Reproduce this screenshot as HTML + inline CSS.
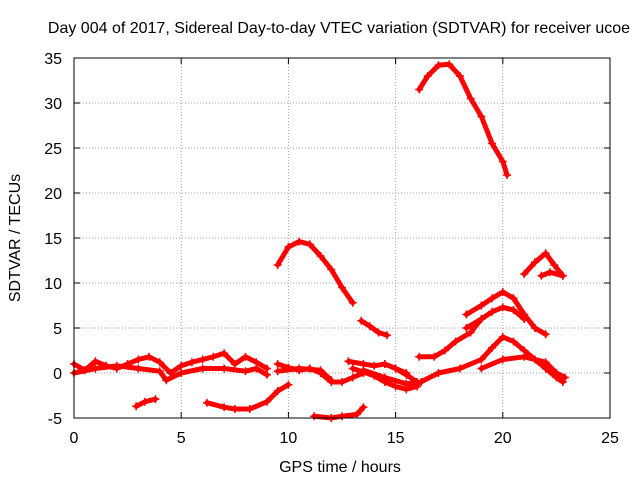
<!DOCTYPE html>
<html><head><meta charset="utf-8"><style>
body{margin:0;background:#fff}
svg text{font-family:"Liberation Sans",sans-serif;font-size:16px;fill:#000}
</style></head><body>
<svg width="640" height="480" xmlns="http://www.w3.org/2000/svg">
<rect width="640" height="480" fill="#fff"/>
<g id="grid"></g>
<g id="axes"></g>
<g id="series"></g>
<rect x="74" y="58" width="536" height="360" fill="none" stroke="#000"/>
<text x="339" y="33" text-anchor="middle">Day 004 of 2017, Sidereal Day-to-day VTEC variation (SDTVAR) for receiver ucoe</text>
<text x="340" y="472" text-anchor="middle">GPS time / hours</text>
<text transform="translate(20,238) rotate(-90)" text-anchor="middle">SDTVAR / TECUs</text>
</svg>
<script>
const xTicks=[0,5,10,15,20,25];
const yTicks=[-5,0,5,10,15,20,25,30,35];
const s1=[[16.1,31.5],[16.5,33],[17,34.2],[17.5,34.3],[18,33],[18.5,30.5],[19,28.5],[19.5,25.5],[20,23.5],[20.2,22]];
const s2=[[9.5,12],[10,14],[10.5,14.6],[11,14.3],[11.5,13],[12,11.5],[12.5,9.5],[13,7.8]];
const s3=[[13.4,5.8],[13.8,5.2],[14.2,4.5],[14.6,4.2]];
const s4=[[21,11],[21.5,12.3],[22,13.3],[22.4,12],[22.8,10.8]];
const s5=[[21.8,10.8],[22.2,11.2],[22.8,10.8]];
const s6=[[18.3,6.5],[19,7.5],[19.5,8.3],[20,9],[20.5,8.3],[21,6.5],[21.5,5],[22,4.3]];
const s7=[[18.3,5],[19,6],[19.5,6.8],[20,7.3],[20.5,7],[21,6]];
const s8=[[16.1,1.8],[16.8,1.8],[17.3,2.5],[17.8,3.5],[18.5,4.5],[19,6]];
const s9=[[16,-1.2],[17,0],[18,0.5],[19,1.5],[19.5,2.8],[20,4],[20.5,3.5],[21,2.5],[21.5,1.5],[22,0.5],[22.5,-0.5],[22.8,-1]];
const s10=[[19,0.5],[20,1.5],[21,1.8],[22,1.2],[22.5,0],[22.9,-0.5]];
const s11=[[2.9,-3.7],[3.3,-3.2],[3.8,-2.9]];
const s12=[[6.2,-3.3],[7,-3.8],[7.5,-4],[8.2,-4],[9,-3.2],[9.5,-2],[10,-1.3]];
const s13=[[11.2,-4.8],[12,-5],[12.5,-4.8],[13.2,-4.6],[13.5,-3.8]];
const s14=[[0,1],[0.5,0.3],[1,1.3],[1.5,0.8],[2,0.5],[2.5,1.0],[3,1.5],[3.5,1.8],[4,1.2],[4.5,0],[5,0.8],[5.5,1.2],[6,1.5],[6.5,1.8],[7,2.2],[7.5,1],[8,1.8],[8.5,1.2],[9,0.5]];
const s15=[[0,0],[1,0.5],[2,0.8],[3,0.5],[4,0.2],[4.3,-0.8],[5,0],[6,0.5],[7,0.5],[8,0.2],[8.5,0.5],[9,-0.2]];
const s16=[[9.5,1],[10,0.6],[10.5,0.3],[11,0.5],[11.5,0],[12,-1],[12.5,-1],[13,-0.5],[13.5,0]];
const s17=[[9.5,0.2],[10.5,0.5],[11.5,0.3],[12,-0.8]];
const s18=[[12.8,1.3],[13.5,1],[14,0.8],[14.5,1],[15,0.5],[15.5,0]];
const s19=[[13,0.5],[14,-0.3],[14.5,-1],[15,-1.5],[15.5,-1.8],[16,-1.5]];
const s20=[[13.5,0.3],[14.5,-0.5],[15.5,-1.2],[16.2,-1]];
const s21=[[14.5,1],[15,0.5],[15.5,-0.2],[16,-1]];
const allSeries=[s1,s2,s3,s4,s5,s6,s7,s8,s9,s10,s11,s12,s13,s14,s15,s16,s17,s18,s19,s20,s21];
const NS="http://www.w3.org/2000/svg";
const X=v=>74+v*(536/25), Y=v=>418-(v+5)*9;
function mk(t,a,p){const e=document.createElementNS(NS,t);for(const k in a)e.setAttribute(k,a[k]);p.appendChild(e);return e;}
const grid=document.getElementById('grid'),axes=document.getElementById('axes'),ser=document.getElementById('series');
xTicks.forEach(t=>{
 if(t>0&&t<25){const l=mk('line',{x1:X(t),x2:X(t),y1:58,y2:418,stroke:'#a0a0a0','stroke-dasharray':'1,2'},grid);
 
 }
 const tx=mk('text',{x:X(t),y:443,'text-anchor':'middle'},axes);tx.textContent=t;
 
 
 mk('line',{x1:X(t),x2:X(t),y1:418,y2:412,stroke:'#000'},axes);
 mk('line',{x1:X(t),x2:X(t),y1:58,y2:64,stroke:'#000'},axes);
});
yTicks.forEach(t=>{
 if(t>-5&&t<35){const l=mk('line',{x1:74,x2:610,y1:Y(t),y2:Y(t),stroke:'#a0a0a0','stroke-dasharray':'1,2'},grid);
 
 }
 const tx=mk('text',{x:62,y:Y(t)+6,'text-anchor':'end'},axes);tx.textContent=t;
 
 
 mk('line',{x1:74,x2:80,y1:Y(t),y2:Y(t),stroke:'#000'},axes);
 mk('line',{x1:604,x2:610,y1:Y(t),y2:Y(t),stroke:'#000'},axes);
});
allSeries.forEach((s,i)=>{
 const p=mk('polyline',{points:s.map(d=>X(d[0])+','+Y(d[1])).join(' '),fill:'none',stroke:'#ff0000','stroke-width':5,'stroke-linejoin':'round','stroke-linecap':'round'},ser);
 
 
 s.forEach(d=>{
  const m=mk('path',{d:`M${X(d[0])-4},${Y(d[1])}h8M${X(d[0])},${Y(d[1])-4}v8`,stroke:'#ff0000','stroke-width':1.5},ser);
  
  
 });
});
</script>
</body></html>
